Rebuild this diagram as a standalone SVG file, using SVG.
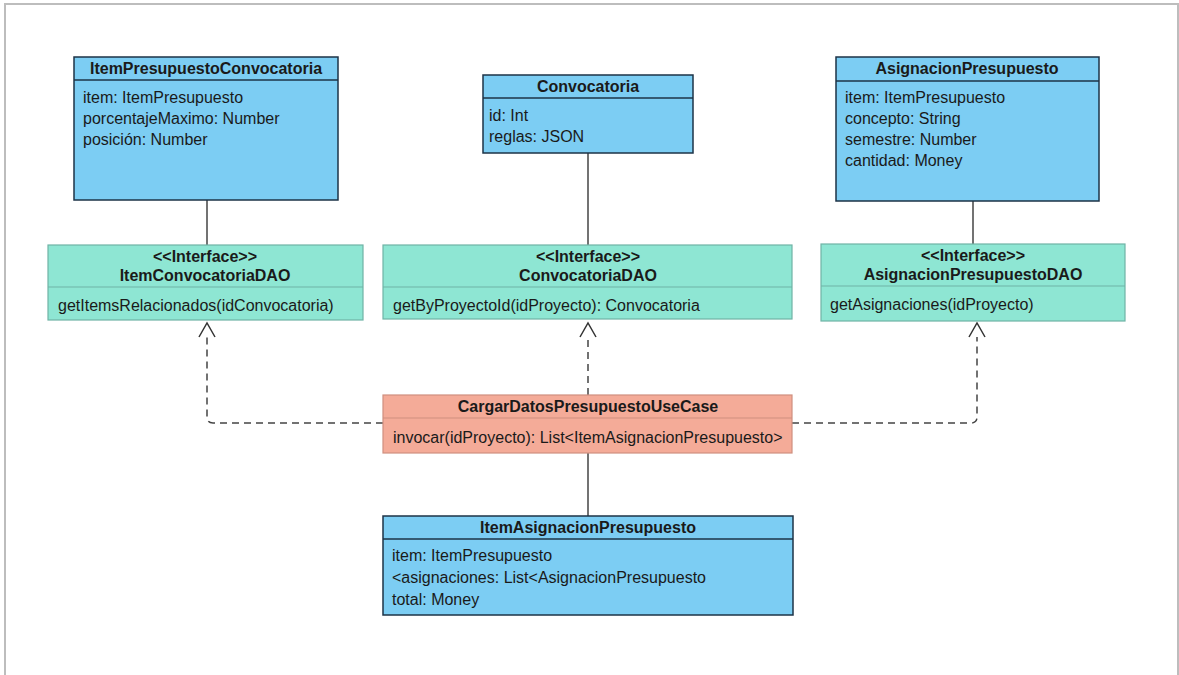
<svg xmlns="http://www.w3.org/2000/svg" width="1179" height="675" viewBox="0 0 1179 675">
<defs>
<style>
text{font-family:"Liberation Sans",Arial,sans-serif;font-size:16px;fill:#1a1a1a}
.t{font-weight:bold;text-anchor:middle}
.cls{fill:#7ccdf3;stroke:#1d3347;stroke-width:1.5}
.clsl{stroke:#1d3347;stroke-width:1.5}
.itf{fill:#8ee6d3;stroke:#6fb3a6;stroke-width:1.2}
.itfl{stroke:#6fb3a6;stroke-width:1}
.uc{fill:#f4ab98;stroke:#cf8f7f;stroke-width:1.2}
.ucl{stroke:#cf8f7f;stroke-width:1}
.solid{stroke:#444;stroke-width:1.5;fill:none}
.dash{stroke:#444;stroke-width:1.5;fill:none;stroke-dasharray:7 5}
.head{fill:none;stroke:#333;stroke-width:1.5}
</style>
</defs>
<rect x="5" y="4" width="1173" height="680" fill="#fff" stroke="#bdbdbd" stroke-width="2"/>

<g id="connectors">
<line class="solid" x1="207" y1="200" x2="207" y2="245"/>
<line class="solid" x1="588" y1="153" x2="588" y2="245"/>
<line class="solid" x1="973" y1="201" x2="973" y2="244"/>
<line class="solid" x1="588" y1="453" x2="588" y2="516"/>
<path class="dash" d="M383,423 H213 Q207,423 207,417 V337"/>
<path class="head" d="M199,337 L207,323 L215,337"/>
<path class="dash" d="M588,395 V337"/>
<path class="head" d="M580,337 L588,323 L596,337"/>
<path class="dash" d="M792,423 H971 Q977,423 977,417 V337"/>
<path class="head" d="M969,337 L977,323 L985,337"/>
</g>

<g id="ItemPresupuestoConvocatoria">
<rect class="cls" x="74" y="57" width="264" height="143"/>
<line class="clsl" x1="74" y1="80" x2="338" y2="80"/>
<text class="t" x="206" y="74">ItemPresupuestoConvocatoria</text>
<text x="83" y="103">item: ItemPresupuesto</text>
<text x="83" y="124">porcentajeMaximo: Number</text>
<text x="83" y="145">posición: Number</text>
</g>

<g id="Convocatoria">
<rect class="cls" x="483" y="75" width="210" height="78"/>
<line class="clsl" x1="483" y1="98" x2="693" y2="98"/>
<text class="t" x="588" y="92">Convocatoria</text>
<text x="489" y="121">id: Int</text>
<text x="489" y="142">reglas: JSON</text>
</g>

<g id="AsignacionPresupuesto">
<rect class="cls" x="836" y="57" width="263" height="144"/>
<line class="clsl" x1="836" y1="81" x2="1099" y2="81"/>
<text class="t" x="967" y="74">AsignacionPresupuesto</text>
<text x="845" y="103">item: ItemPresupuesto</text>
<text x="845" y="124">concepto: String</text>
<text x="845" y="145">semestre: Number</text>
<text x="845" y="166">cantidad: Money</text>
</g>

<g id="ItemConvocatoriaDAO">
<rect class="itf" x="48" y="245" width="315" height="75"/>
<line class="itfl" x1="48" y1="287" x2="363" y2="287"/>
<text class="t" x="205" y="262">&lt;&lt;Interface&gt;&gt;</text>
<text class="t" x="205" y="281">ItemConvocatoriaDAO</text>
<text x="58" y="311">getItemsRelacionados(idConvocatoria)</text>
</g>

<g id="ConvocatoriaDAO">
<rect class="itf" x="383" y="245" width="409" height="74"/>
<line class="itfl" x1="383" y1="287" x2="792" y2="287"/>
<text class="t" x="588" y="262">&lt;&lt;Interface&gt;&gt;</text>
<text class="t" x="588" y="281">ConvocatoriaDAO</text>
<text x="393" y="311">getByProyectoId(idProyecto): Convocatoria</text>
</g>

<g id="AsignacionPresupuestoDAO">
<rect class="itf" x="821" y="244" width="304" height="77"/>
<line class="itfl" x1="821" y1="286" x2="1125" y2="286"/>
<text class="t" x="973" y="261">&lt;&lt;Interface&gt;&gt;</text>
<text class="t" x="973" y="280">AsignacionPresupuestoDAO</text>
<text x="830" y="310">getAsignaciones(idProyecto)</text>
</g>

<g id="CargarDatosPresupuestoUseCase">
<rect class="uc" x="383" y="395" width="409" height="58"/>
<line class="ucl" x1="383" y1="418" x2="792" y2="418"/>
<text class="t" x="588" y="412">CargarDatosPresupuestoUseCase</text>
<text x="393" y="443">invocar(idProyecto): List&lt;ItemAsignacionPresupuesto&gt;</text>
</g>

<g id="ItemAsignacionPresupuesto">
<rect class="cls" x="383" y="516" width="410" height="99"/>
<line class="clsl" x1="383" y1="539" x2="793" y2="539"/>
<text class="t" x="588" y="533">ItemAsignacionPresupuesto</text>
<text x="392" y="561">item: ItemPresupuesto</text>
<text x="392" y="583">&lt;asignaciones: List&lt;AsignacionPresupuesto</text>
<text x="392" y="605">total: Money</text>
</g>
</svg>
